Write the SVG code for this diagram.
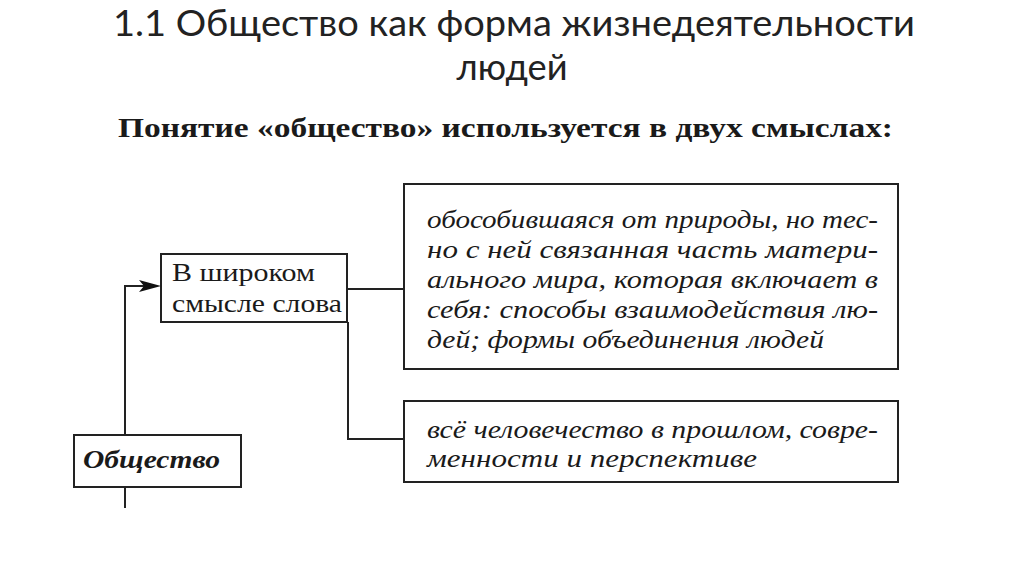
<svg xmlns="http://www.w3.org/2000/svg" width="1024" height="574" viewBox="0 0 1024 574">
<defs>
<style>
.box{fill:#fff;stroke:#222;stroke-width:2}
.ln{fill:none;stroke:#222;stroke-width:2}
.head{fill:#111;stroke:none}
.title{font-family:Lato,"Open Sans","Liberation Sans",sans-serif;font-weight:400;font-size:36px;fill:#222}
.sub{font-family:"Liberation Serif",serif;font-weight:bold;font-size:27px;fill:#1a1a1a}
.rg{font-family:"Liberation Serif",serif;font-size:25px;fill:#1a1a1a}
.it{font-family:"Liberation Serif",serif;font-style:italic;font-size:25px;fill:#1a1a1a}
.bi{font-family:"Liberation Serif",serif;font-style:italic;font-weight:bold;font-size:26px;fill:#1a1a1a}
</style>
</defs>
<rect width="1024" height="574" fill="#fff"/>
<g id="title">
<text class="title" x="113" y="36" textLength="802" lengthAdjust="spacingAndGlyphs">1.1 Общество как форма жизнедеятельности</text>
<text class="title" x="512" y="80" text-anchor="middle" textLength="111" lengthAdjust="spacingAndGlyphs">людей</text>
<text class="sub" x="118" y="137" textLength="775" lengthAdjust="spacingAndGlyphs">Понятие «общество» используется в двух смыслах:</text>
</g>
<g id="connectors">
<path class="ln" d="M125,435 V286 H145"/>
<path class="head" d="M139,280 L161,286 L139,292 L144,286 Z"/>
<path class="ln" d="M125,487 V508"/>
<path class="ln" d="M347,289 H404"/>
<path class="ln" d="M348,322 V439 H404"/>
</g>
<g id="node-society">
<rect class="box" x="74" y="435" width="167" height="52"/>
<text class="bi" x="83" y="468" textLength="137" lengthAdjust="spacingAndGlyphs">Общество</text>
</g>
<g id="node-broad">
<rect class="box" x="161" y="254" width="186" height="68"/>
<text class="rg" x="172" y="281" textLength="143" lengthAdjust="spacingAndGlyphs">В широком</text>
<text class="rg" x="172" y="312" textLength="170" lengthAdjust="spacingAndGlyphs">смысле слова</text>
</g>
<g id="node-def1">
<rect class="box" x="404" y="184" width="494" height="185"/>
<text class="it" x="427" y="228" textLength="451" lengthAdjust="spacingAndGlyphs">обособившаяся от природы, но тес-</text>
<text class="it" x="427" y="258" textLength="451" lengthAdjust="spacingAndGlyphs">но с ней связанная часть матери-</text>
<text class="it" x="427" y="288" textLength="451" lengthAdjust="spacingAndGlyphs">ального мира, которая включает в</text>
<text class="it" x="427" y="318" textLength="451" lengthAdjust="spacingAndGlyphs">себя: способы взаимодействия лю-</text>
<text class="it" x="427" y="348" textLength="397" lengthAdjust="spacingAndGlyphs">дей; формы объединения людей</text>
</g>
<g id="node-def2">
<rect class="box" x="404" y="401" width="494" height="81"/>
<text class="it" x="427" y="438" textLength="451" lengthAdjust="spacingAndGlyphs">всё человечество в прошлом, совре-</text>
<text class="it" x="427" y="467" textLength="330" lengthAdjust="spacingAndGlyphs">менности и перспективе</text>
</g>
</svg>
